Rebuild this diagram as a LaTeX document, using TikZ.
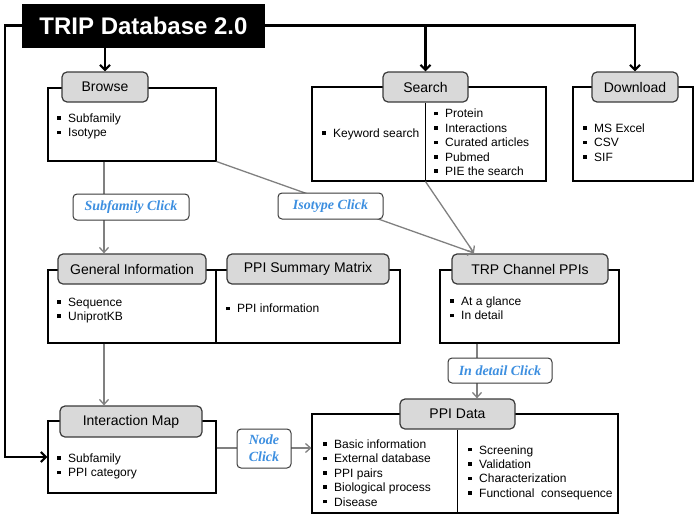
\documentclass[tikz,border=0pt]{standalone}
\usepackage{fontspec}
\setmainfont{Liberation Sans}
\newfontfamily\tmsfont{Liberation Serif}
\usetikzlibrary{arrows.meta,calc}
\definecolor{hdrfill}{HTML}{D9D9D9}
\definecolor{hdrline}{HTML}{3A3A3A}
\definecolor{conn}{HTML}{808080}
\definecolor{clickblue}{HTML}{3D8FE0}
\newcommand\bu{\makebox[11pt][l]{\rule[2.6pt]{3.6pt}{3.6pt}}}
\tikzset{
  bx/.style={draw=black,line width=1.1pt,fill=white,inner sep=0pt,rectangle},
  hdr/.style={draw=hdrline,line width=1.2pt,fill=hdrfill,rounded corners=5pt,inner sep=0pt,
    font=\fontsize{14}{16}\selectfont,minimum height=30pt},
  lst/.style={align=left,inner sep=0pt,anchor=west,font=\fontsize{12}{14.4}\selectfont},
  clk/.style={draw=hdrline,line width=1pt,fill=white,rounded corners=4pt,inner sep=0pt,
    align=center,text=clickblue,font=\tmsfont\bfseries\itshape\fontsize{14}{17}\selectfont},
  thk/.style={draw=black,line width=2.2pt,-{Straight Barb[length=5pt,width=10pt]}},
  gry/.style={draw=conn,line width=1.3pt,-{Straight Barb[length=5pt,width=9pt]}},
  dvd/.style={draw=black,line width=1.1pt}
}
\begin{document}
\begin{tikzpicture}[x=1pt,y=-1pt]
\useasboundingbox (0,0) rectangle (697,517);
% boxes
\node[bx,minimum width=168,minimum height=73] (brbox) at (132,124.5) {};
\node[bx,minimum width=234,minimum height=94] (shbox) at (429,134) {};
\node[bx,minimum width=120,minimum height=94] (dlbox) at (633,134) {};
\node[bx,minimum width=168,minimum height=73] (gibox) at (132,306.5) {};
\node[bx,minimum width=184,minimum height=73] (smbox) at (308,306.5) {};
\node[bx,minimum width=179,minimum height=73] (trpbox) at (529.5,306.5) {};
\node[bx,minimum width=168,minimum height=72] (imbox) at (132,457) {};
\node[bx,minimum width=306,minimum height=99] (pdbox) at (465,463.5) {};
% headers
\node[hdr,minimum width=86] (brhead) at (105,87) {Browse};
\node[hdr,minimum width=85] (shhead) at (425.5,87) {Search};
\node[hdr,minimum width=86] (dlhead) at (635,87) {Download};
\node[hdr,minimum width=148] (gihead) at (132,269) {General Information};
\node[hdr,minimum width=162] (smhead) at (308,269) {PPI Summary Matrix};
\node[hdr,minimum width=156] (trphead) at (530,269) {TRP Channel PPIs};
\node[hdr,minimum width=142,minimum height=31] (imhead) at (131,421.5) {Interaction Map};
\node[hdr,minimum width=115] (pdhead) at (457.5,414) {PPI Data};
% title
\node[fill=black,text=white,inner sep=0pt,minimum width=243,minimum height=44,
  font=\bfseries\fontsize{24}{28}\selectfont] (title) at (143.5,25.5) {TRIP Database 2.0};
% dividers
\draw[dvd] (shhead.south) -- (shhead.south |- shbox.south);
\draw[dvd] (pdhead.south) -- (pdhead.south |- pdbox.south);
% lists
\node[lst] (brlst) at (57,126.5) {\bu Subfamily\\\bu Isotype};
\node[lst] (shlstl) at (322,134.5) {\bu Keyword search};
\node[lst] (shlstr) at (434,142.5) {\bu Protein\\\bu Interactions\\\bu Curated articles\\\bu Pubmed\\\bu PIE the search};
\node[lst] (dllst) at (583,142.5) {\bu MS Excel\\\bu CSV\\\bu SIF};
\node[lst] (gilst) at (57,310.5) {\bu Sequence\\\bu UniprotKB};
\node[lst] (smlst) at (226,308.5) {\bu PPI information};
\node[lst] (trplst) at (450,308.5) {\bu At a glance\\\bu In detail};
\node[lst] (imlst) at (57,466.5) {\bu Subfamily\\\bu PPI category};
\node[lst] (pdlstl) at (323,473) {\bu Basic information\\\bu External database\\\bu PPI pairs\\\bu Biological process\\\bu Disease};
\node[lst] (pdlstr) at (468,472.5) {\bu Screening\\\bu Validation\\\bu Characterization\\\bu Functional~ consequence};
% helper coordinates
\coordinate (xl) at (5,0);
\coordinate (xb) at (104,0);
\coordinate (trptip) at (474,253);
\coordinate (xd) at (477,0);
\coordinate (ym) at (0,448);
% thick black connectors
\draw[thk] (title.west) -- (title.west -| xl) |- (imbox.west);
\draw[thk] (title.east) -| (dlhead.north);
\draw[thk] (title.east -| shhead.north) -- (shhead.north);
\draw[thk] (brhead.north |- title.south) -- (brhead.north);
% gray connectors
\draw[gry] (brbox.south -| xb) -- (gihead.north -| xb);
\draw[gry] (brbox.south east) -- (trptip);
\draw[gry] (shhead.south |- shbox.south) -- (trptip);
\draw[gry] (trpbox.south -| xd) -- (pdhead.north -| xd);
\draw[gry] (gibox.south -| xb) -- (imhead.north -| xb);
\draw[gry] (imbox.east |- ym) -- (pdbox.west |- ym);
% click labels
\node[clk,minimum width=116,minimum height=26] (subclk) at (131,207) {Subfamily Click};
\node[clk,minimum width=105,minimum height=26] (isoclk) at (330.5,206) {Isotype Click};
\node[clk,minimum width=104,minimum height=25] (detclk) at (500,370.5) {In detail Click};
\node[clk,minimum width=54,minimum height=39] (nodeclk) at (264,448.5) {Node\\Click};
\end{tikzpicture}
\end{document}
